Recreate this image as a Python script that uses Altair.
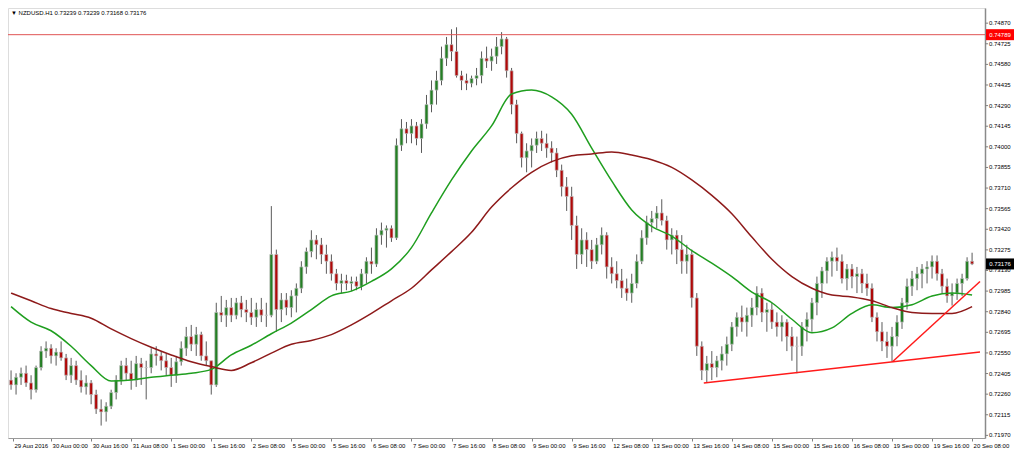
import json
import altair as alt
import pandas as pd

title_text = "\u25bc NZDUSD.H1  0.73239 0.73239 0.73168 0.73176"

# 2-hour candles, bar 0 = 29 Aug 08:00 ... bar 192 = 20 Sep 08:00
first_open = 0.72359
highs = [
    0.72427, 0.72407, 0.72447, 0.72461, 0.72393, 0.72461, 0.72597, 0.72631, 0.72611, 0.72583,
    0.72631, 0.72543, 0.72515, 0.72495, 0.72427, 0.72393, 0.72359, 0.72291, 0.72223, 0.72203,
    0.72291, 0.72393, 0.72495, 0.72515, 0.72495, 0.72529, 0.72515, 0.72495, 0.72583, 0.72597,
    0.72563, 0.72543, 0.72515, 0.72529, 0.72631, 0.72733, 0.72747, 0.72733, 0.72699, 0.72631,
    0.72495, 0.72903, 0.72951, 0.72923, 0.72937, 0.72937, 0.72951, 0.72923, 0.72937, 0.72903,
    0.72937, 0.72903, 0.73583, 0.73277, 0.72971, 0.72971, 0.72991, 0.73039, 0.73195, 0.73291,
    0.73413, 0.73379, 0.73359, 0.73311, 0.73243, 0.73141, 0.73107, 0.73100, 0.73087, 0.73087,
    0.73141, 0.73223, 0.73291, 0.73427, 0.73467, 0.73447, 0.73447, 0.74059, 0.74195, 0.74175,
    0.74195, 0.74175, 0.74195, 0.74365, 0.74467, 0.74535, 0.74705, 0.74773, 0.74827, 0.74841,
    0.74535, 0.74515, 0.74501, 0.74555, 0.74671, 0.74705, 0.74691, 0.74773, 0.74807, 0.74773,
    0.74555, 0.74331, 0.74107, 0.74025, 0.74059, 0.74107, 0.74113, 0.74093, 0.74039, 0.73991,
    0.73875, 0.73787, 0.73719, 0.73515, 0.73427, 0.73399, 0.73345, 0.73359, 0.73433, 0.73399,
    0.73223, 0.73195, 0.73141, 0.73073, 0.73107, 0.73243, 0.73413, 0.73515, 0.73549, 0.73583,
    0.73631, 0.73515, 0.73427, 0.73413, 0.73379, 0.73311, 0.73277, 0.72971, 0.72631, 0.72529,
    0.72563, 0.72529, 0.72597, 0.72665, 0.72767, 0.72835, 0.72883, 0.72869, 0.72937, 0.73019,
    0.73005, 0.72903, 0.72903, 0.72835, 0.72815, 0.72787, 0.72733, 0.72665, 0.72767, 0.72835,
    0.72937, 0.73087, 0.73155, 0.73223, 0.73263, 0.73291, 0.73243, 0.73175, 0.73175, 0.73155,
    0.73141, 0.73107, 0.73039, 0.72835, 0.72767, 0.72699, 0.72733, 0.72815, 0.72937, 0.73073,
    0.73127, 0.73155, 0.73175, 0.73195, 0.73236, 0.73236, 0.73141, 0.73073, 0.73039, 0.73073,
    0.73107, 0.73223, 0.73255,
]
lows = [
    0.72291, 0.72257, 0.72325, 0.72311, 0.72223, 0.72271, 0.72427, 0.72515, 0.72475, 0.72461,
    0.72495, 0.72359, 0.72339, 0.72325, 0.72271, 0.72257, 0.72189, 0.72121, 0.72039, 0.72067,
    0.72155, 0.72223, 0.72325, 0.72359, 0.72291, 0.72311, 0.72325, 0.72223, 0.72407, 0.72461,
    0.72427, 0.72393, 0.72311, 0.72339, 0.72461, 0.72529, 0.72563, 0.72529, 0.72495, 0.72461,
    0.72257, 0.72311, 0.72767, 0.72733, 0.72767, 0.72787, 0.72801, 0.72767, 0.72747, 0.72733,
    0.72767, 0.72733, 0.72801, 0.72699, 0.72767, 0.72815, 0.72801, 0.72835, 0.72971, 0.73107,
    0.73223, 0.73209, 0.73175, 0.73107, 0.73059, 0.72991, 0.72971, 0.72991, 0.72985, 0.72991,
    0.72991, 0.73039, 0.73107, 0.73155, 0.73311, 0.73291, 0.73331, 0.73345, 0.73971, 0.74025,
    0.74025, 0.74011, 0.73957, 0.74127, 0.74243, 0.74297, 0.74433, 0.74569, 0.74603, 0.74487,
    0.74399, 0.74399, 0.74419, 0.74433, 0.74447, 0.74555, 0.74535, 0.74583, 0.74651, 0.74487,
    0.74229, 0.74025, 0.73855, 0.73821, 0.73855, 0.73957, 0.73971, 0.73923, 0.73889, 0.73787,
    0.73651, 0.73549, 0.73345, 0.73141, 0.73175, 0.73155, 0.73141, 0.73175, 0.73243, 0.73073,
    0.73039, 0.73005, 0.72937, 0.72917, 0.72903, 0.73005, 0.73175, 0.73311, 0.73399, 0.73427,
    0.73447, 0.73277, 0.73243, 0.73175, 0.73107, 0.73107, 0.72869, 0.72529, 0.72359, 0.72339,
    0.72359, 0.72379, 0.72427, 0.72461, 0.72563, 0.72665, 0.72699, 0.72665, 0.72733, 0.72815,
    0.72767, 0.72699, 0.72719, 0.72665, 0.72631, 0.72563, 0.72495, 0.72407, 0.72529, 0.72631,
    0.72699, 0.72815, 0.72937, 0.73039, 0.73087, 0.73127, 0.73039, 0.72991, 0.73005, 0.72971,
    0.72971, 0.72951, 0.72767, 0.72631, 0.72563, 0.72515, 0.72488, 0.72597, 0.72719, 0.72855,
    0.72951, 0.72991, 0.73005, 0.73039, 0.73073, 0.73059, 0.72971, 0.72903, 0.72883, 0.72923,
    0.72951, 0.73059, 0.73168,
]
closes = [
    0.72325, 0.72379, 0.72407, 0.72339, 0.72291, 0.72447, 0.72563, 0.72583, 0.72529, 0.72556,
    0.72515, 0.72393, 0.72461, 0.72359, 0.72311, 0.72339, 0.72257, 0.72155, 0.72135, 0.72175,
    0.72271, 0.72359, 0.72461, 0.72407, 0.72359, 0.72475, 0.72447, 0.72447, 0.72543, 0.72529,
    0.72495, 0.72447, 0.72393, 0.72488, 0.72583, 0.72665, 0.72611, 0.72679, 0.72529, 0.72495,
    0.72325, 0.72835, 0.72815, 0.72869, 0.72815, 0.72903, 0.72855, 0.72835, 0.72801, 0.72855,
    0.72815, 0.72815, 0.73243, 0.72855, 0.72923, 0.72869, 0.72951, 0.73005, 0.73155, 0.73263,
    0.73345, 0.73311, 0.73243, 0.73195, 0.73107, 0.73039, 0.73059, 0.73039, 0.73053, 0.73019,
    0.73107, 0.73195, 0.73175, 0.73379, 0.73413, 0.73427, 0.73359, 0.74011, 0.74127, 0.74093,
    0.74147, 0.74059, 0.74161, 0.74297, 0.74399, 0.74467, 0.74623, 0.74719, 0.74671, 0.74501,
    0.74467, 0.74447, 0.74481, 0.74501, 0.74623, 0.74603, 0.74637, 0.74705, 0.74759, 0.74535,
    0.74297, 0.74093, 0.73923, 0.73971, 0.74011, 0.74059, 0.74025, 0.73991, 0.73957, 0.73835,
    0.73719, 0.73651, 0.73447, 0.73243, 0.73345, 0.73277, 0.73195, 0.73311, 0.73379, 0.73155,
    0.73107, 0.73059, 0.73005, 0.72971, 0.73039, 0.73195, 0.73359, 0.73467, 0.73495, 0.73535,
    0.73481, 0.73345, 0.73379, 0.73277, 0.73195, 0.73243, 0.72937, 0.72597, 0.72427, 0.72475,
    0.72447, 0.72495, 0.72543, 0.72611, 0.72733, 0.72801, 0.72767, 0.72815, 0.72869, 0.72971,
    0.72835, 0.72855, 0.72767, 0.72733, 0.72767, 0.72665, 0.72597, 0.72597, 0.72733, 0.72787,
    0.72903, 0.73039, 0.73127, 0.73195, 0.73223, 0.73195, 0.73073, 0.73141, 0.73087, 0.73107,
    0.73039, 0.73005, 0.72801, 0.72699, 0.72631, 0.72597, 0.72665, 0.72767, 0.72903, 0.73019,
    0.73073, 0.73107, 0.73141, 0.73155, 0.73195, 0.73107, 0.73019, 0.72951, 0.72971, 0.73039,
    0.73073, 0.73195, 0.73176,
]

# moving averages read every 4 bars
ma_step = 4
green_ma = [
    0.72876, 0.72767, 0.72706, 0.72597, 0.72461, 0.72352, 0.72359, 0.72379, 0.72393, 0.72407,
    0.72434, 0.72536, 0.72604, 0.72685, 0.72760, 0.72855, 0.72951, 0.72985, 0.73053, 0.73141,
    0.73291, 0.73535, 0.73767, 0.73971, 0.74147, 0.74372, 0.74399, 0.74351, 0.74229, 0.73991,
    0.73760, 0.73556, 0.73440, 0.73372, 0.73270, 0.73182, 0.73087, 0.72978, 0.72903, 0.72787,
    0.72692, 0.72726, 0.72828, 0.72889, 0.72869, 0.72889, 0.72951, 0.72971, 0.72957,
]
maroon_ma = [
    0.72971, 0.72917, 0.72862, 0.72828, 0.72794, 0.72719, 0.72651, 0.72590, 0.72536, 0.72488,
    0.72454, 0.72427, 0.72481, 0.72549, 0.72611, 0.72638, 0.72679, 0.72747, 0.72828, 0.72917,
    0.73005, 0.73134, 0.73263, 0.73399, 0.73576, 0.73712, 0.73821, 0.73896, 0.73937, 0.73950,
    0.73964, 0.73943, 0.73909, 0.73855, 0.73767, 0.73658, 0.73529, 0.73365, 0.73209, 0.73087,
    0.73005, 0.72957, 0.72944, 0.72917, 0.72869, 0.72835, 0.72828, 0.72828, 0.72876,
]

tick_labels = [
    "29 Aug 2016", "30 Aug 00:00", "30 Aug 16:00", "31 Aug 08:00", "1 Sep 00:00",
    "1 Sep 16:00", "2 Sep 08:00", "5 Sep 00:00", "5 Sep 16:00", "6 Sep 08:00",
    "7 Sep 00:00", "7 Sep 16:00", "8 Sep 08:00", "9 Sep 00:00", "9 Sep 16:00",
    "12 Sep 08:00", "13 Sep 00:00", "13 Sep 16:00", "14 Sep 08:00", "15 Sep 00:00",
    "15 Sep 16:00", "16 Sep 08:00", "19 Sep 00:00", "19 Sep 16:00", "20 Sep 08:00",
]
y_ticks = [
    0.71970, 0.72115, 0.72260, 0.72405, 0.72550, 0.72695, 0.72840, 0.72985, 0.73130,
    0.73275, 0.73420, 0.73565, 0.73710, 0.73855, 0.74000, 0.74145, 0.74290, 0.74435,
    0.74580, 0.74725, 0.74870,
]
hline_price = 0.74789
last_price = 0.73176

trend_a_idx = [138.4, 193.58]
trend_a_price = [0.72339, 0.72556]
trend_b_idx = [176.1, 193.58]
trend_b_price = [0.72488, 0.73053]

X_MIN, X_MAX = 0.39, 193.58
Y_MIN, Y_MAX = 0.719515, 0.749767
W, H = 977, 430
FONT = "Liberation Sans"

assert len(highs) == len(lows) == len(closes) == 193
opens = [first_open] + closes[:-1]
candles = pd.DataFrame({
    "i": list(range(len(closes))),
    "open": opens, "high": highs, "low": lows, "close": closes,
})
ma_df = pd.DataFrame({
    "i": [k * ma_step for k in range(len(green_ma))] * 2,
    "v": green_ma + maroon_ma,
    "s": ["green"] * len(green_ma) + ["maroon"] * len(maroon_ma),
})
trend_df = pd.DataFrame({
    "i": trend_a_idx + trend_b_idx,
    "p": trend_a_price + trend_b_price,
    "s": ["a", "a", "b", "b"],
})
ytick_df = pd.DataFrame({"p": y_ticks, "t": [f"{v:.5f}" for v in y_ticks]})

xscale = alt.Scale(domain=[X_MIN, X_MAX], nice=False, zero=False)
yscale = alt.Scale(domain=[Y_MIN, Y_MAX], nice=False, zero=False)

x_vals = [X_MIN] + [8 * k for k in range(1, len(tick_labels))]
x_axis = alt.Axis(
    values=x_vals, labelExpr=json.dumps(tick_labels) + "[round(datum.value/8)]",
    labelAlign="left", labelBaseline="top", labelFont=FONT, labelFontSize=6,
    labelColor="#000000", labelPadding=1, labelOffset=1, tickSize=3,
    tickColor="#808080", domainColor="#9a9a9a", grid=False, title=None,
    labelOverlap=False, labelFlush=False, labelBound=False,
)
y_axis = alt.Axis(
    orient="right", values=y_ticks, labels=False, ticks=False,
    domainColor="#8a8a8a", domainWidth=1.5, grid=False, title=None,
)

wicks = alt.Chart(candles).mark_rule(color="#5a5a5a", strokeWidth=1, clip=True).encode(
    x=alt.X("i:Q", scale=xscale, axis=x_axis),
    y=alt.Y("low:Q", scale=yscale, axis=y_axis),
    y2="high:Q",
)
hline = alt.Chart(pd.DataFrame({"p": [hline_price]})).mark_rule(
    color="#e05555", strokeWidth=1
).encode(y=alt.Y("p:Q", scale=yscale))

bodies = alt.Chart(candles).mark_bar(
    width=3, clip=True, stroke="#bdbdbd", strokeWidth=0.7
).encode(
    x=alt.X("i:Q", scale=xscale),
    y=alt.Y("open:Q", scale=yscale),
    y2="close:Q",
    color=alt.condition("datum.close >= datum.open", alt.value("#247f24"), alt.value("#b00808")),
)
mas = alt.Chart(ma_df).mark_line(strokeWidth=1.5, interpolate="monotone", clip=True).encode(
    x=alt.X("i:Q", scale=xscale),
    y=alt.Y("v:Q", scale=yscale),
    detail="s:N",
    color=alt.Color("s:N", scale=alt.Scale(domain=["green", "maroon"], range=["#1f9e1f", "#8e1a1a"]), legend=None),
)
trends = alt.Chart(trend_df).mark_line(strokeWidth=1.5, color="#ff1a1a", clip=True).encode(
    x=alt.X("i:Q", scale=xscale),
    y=alt.Y("p:Q", scale=yscale),
    detail="s:N",
)

# price-axis ticks and labels on the right
ytick_marks = alt.Chart(ytick_df).mark_rule(color="#808080", strokeWidth=1).encode(
    y=alt.Y("p:Q", scale=yscale), x=alt.value(977), x2=alt.value(980),
)
ytick_text = alt.Chart(ytick_df).mark_text(
    align="left", baseline="middle", font=FONT, fontSize=6, color="#000000"
).encode(y=alt.Y("p:Q", scale=yscale), x=alt.value(981), text="t:N")

box_df = pd.DataFrame({
    "p": [hline_price, last_price],
    "t": [f"{hline_price:.5f}", f"{last_price:.5f}"],
    "c": ["red", "black"],
})
boxes = alt.Chart(box_df).mark_rule(strokeWidth=11, strokeCap="butt").encode(
    y=alt.Y("p:Q", scale=yscale),
    x=alt.value(978), x2=alt.value(1006),
    color=alt.Color("c:N", scale=alt.Scale(domain=["red", "black"], range=["#ff0000", "#000000"]), legend=None),
)
box_text = alt.Chart(box_df).mark_text(
    color="white", font=FONT, fontSize=6, align="center", baseline="middle"
).encode(y=alt.Y("p:Q", scale=yscale), x=alt.value(992), text="t:N")

title = alt.Chart(pd.DataFrame({"t": [title_text]})).mark_text(
    align="left", baseline="middle", font=FONT, fontSize=6, color="#000000"
).encode(x=alt.value(3), y=alt.value(5), text="t:N")

chart = alt.layer(
    wicks, hline, bodies, mas, trends, ytick_marks, ytick_text, boxes, box_text, title
).resolve_scale(
    color="independent"
).properties(
    width=W, height=H, autosize=alt.AutoSizeParams(type="none"),
    padding={"left": 0, "top": 0, "right": 31, "bottom": 10},
).configure_view(strokeWidth=0).configure_axis(
    labelOverlap=False, labelFlush=False
).configure(background="white")

chart.save("out.html", embed_options={"renderer": "svg", "actions": False})
